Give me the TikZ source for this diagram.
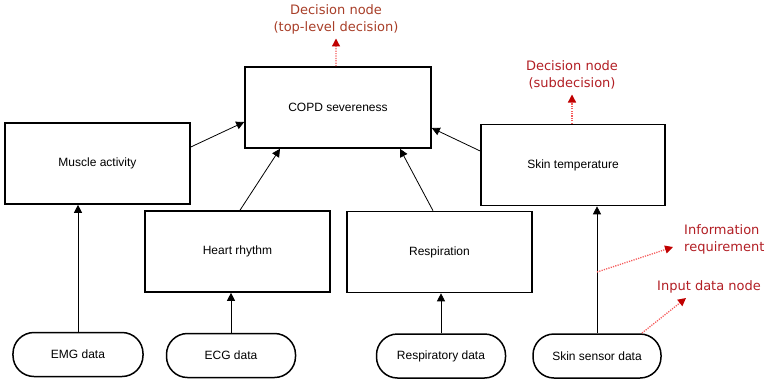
\documentclass[tikz,border=0pt]{standalone}
\usepackage{fontspec}
\setmainfont{Liberation Sans}
\newfontfamily\notefont{DejaVu Sans}
\usetikzlibrary{arrows.meta,calc}

\definecolor{notetop}{RGB}{168,62,40}
\definecolor{notered}{RGB}{178,30,36}
\definecolor{dotline}{RGB}{245,90,90}
\definecolor{tipred}{RGB}{192,0,0}

\tikzset{
  decbox/.style={draw=black, line width=1.6bp, fill=white, minimum width=#1, minimum height=81bp,
    inner sep=0pt, font=\fontsize{12bp}{14bp}\selectfont},
  datanode/.style={draw=black, line width=1.5bp, fill=white, rounded corners=21bp,
    minimum width=#1, minimum height=44bp, inner sep=0pt, font=\fontsize{12bp}{14bp}\selectfont},
  link/.style={draw=black, line width=0.8bp, -{Triangle[length=8bp,width=8bp]}},
  notetext/.style={text=notered, align=center, inner sep=0pt,
    font=\notefont\fontsize{13bp}{17bp}\selectfont},
  notelink/.style={draw=dotline, line width=1.3bp, dash pattern=on 1.2bp off 1.2bp,
    -{Triangle[length=8bp,width=8bp,color=tipred]}}
}

\begin{document}
\begin{tikzpicture}[x=1bp,y=-1bp]
  \useasboundingbox (0,0) rectangle (766,384);

  % decision nodes
  \node[decbox=186bp] (copd)  at (338,107.5) {COPD severeness};
  \node[decbox=185bp] (mus)   at (97.5,163.5) {Muscle activity};
  \node[decbox=184bp] (skin)  at (573,165) {Skin temperature};
  \node[decbox=185bp] (heart) at (237.5,251.5) {Heart rhythm};
  \node[decbox=185bp] (resp)  at (439.5,252) {Respiration};

  % input data nodes
  \node[datanode=130bp] (emg)   at (78,354.5) {EMG data};
  \node[datanode=129bp] (ecg)   at (231,355.5) {ECG data};
  \node[datanode=129bp] (rdata) at (441,356) {Respiratory data};
  \node[datanode=128bp] (sdata) at (597,356) {Skin sensor data};

  % information requirements
  \draw[link] (emg.north)   -- (emg.north |- mus.south);
  \draw[link] (ecg.north)   -- (ecg.north |- heart.south);
  \draw[link] (rdata.north) -- (rdata.north |- resp.south);
  \draw[link] (sdata.north) -- (sdata.north |- skin.south);

  \draw[link] ([yshift=16.5bp]mus.east)   -- ([yshift=-14.5bp]copd.west);
  \draw[link] ([xshift=2.5bp]heart.north) -- ([xshift=-58bp]copd.south);
  \draw[link] ([xshift=-6.5bp]resp.north) -- ([xshift=62bp]copd.south);
  \draw[link] ([yshift=14bp]skin.west)    -- ([yshift=-20.5bp]copd.east);

  % annotations
  \node[notetext, text=notetop] (ntop) at (336,19.5) {Decision node\\(top-level decision)};
  \node[notetext] (nsub) at (572,75) {Decision node\\(subdecision)};
  \node[notetext, align=left, anchor=west] (ninfo) at (684,239.5) {Information\\requirement};
  \node[notetext, align=left, anchor=west] (ninput) at (657,287) {Input data node};

  \coordinate (infopt) at (597,272);
  \coordinate (infoend) at (673,247);
  \coordinate (inputpt) at (642,333);
  \coordinate (inputend) at (686,298);

  \draw[notelink] ([xshift=-2bp]copd.north) -- ([yshift=-4bp]ntop.south);
  \draw[notelink] ([xshift=-1bp]skin.north) -- ([yshift=-5bp]nsub.south);
  \draw[notelink] (infopt) -- (infoend);
  \draw[notelink] (inputpt) -- (inputend);
\end{tikzpicture}
\end{document}
